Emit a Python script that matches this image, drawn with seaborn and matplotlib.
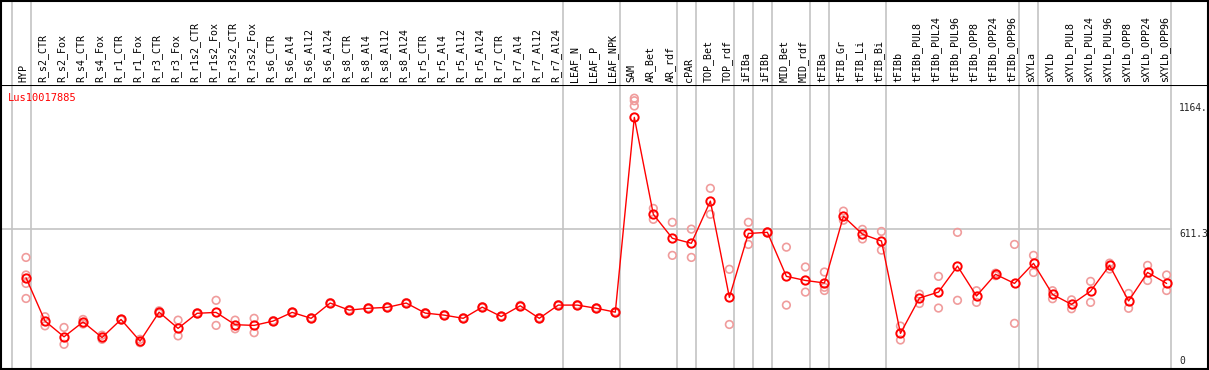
import numpy as np
import pandas as pd
import matplotlib
matplotlib.use('Agg')
import matplotlib.pyplot as plt
import seaborn as sns

gene = 'Lus10017885'

samples = ['HYP',
           'R_s2_CTR', 'R_s2_Fox', 'R_s4_CTR', 'R_s4_Fox', 'R_r1_CTR', 'R_r1_Fox',
           'R_r3_CTR', 'R_r3_Fox', 'R_r1s2_CTR', 'R_r1s2_Fox', 'R_r3s2_CTR', 'R_r3s2_Fox',
           'R_s6_CTR', 'R_s6_Al4', 'R_s6_Al12', 'R_s6_Al24', 'R_s8_CTR', 'R_s8_Al4',
           'R_s8_Al12', 'R_s8_Al24', 'R_r5_CTR', 'R_r5_Al4', 'R_r5_Al12', 'R_r5_Al24',
           'R_r7_CTR', 'R_r7_Al4', 'R_r7_Al12', 'R_r7_Al24',
           'LEAF_N', 'LEAF_P', 'LEAF_NPK',
           'SAM', 'AR_Bet', 'AR_rdf', 'cPAR', 'TOP_Bet', 'TOP_rdf', 'iFIBa', 'iFIBb',
           'MID_Bet', 'MID_rdf', 'tFIBa', 'tFIB_Gr', 'tFIB_Li', 'tFIB_Bi',
           'tFIBb', 'tFIBb_PUL8', 'tFIBb_PUL24', 'tFIBb_PUL96', 'tFIBb_OPP8',
           'tFIBb_OPP24', 'tFIBb_OPP96',
           'sXYLa', 'sXYLb', 'sXYLb_PUL8', 'sXYLb_PUL24', 'sXYLb_PUL96', 'sXYLb_OPP8',
           'sXYLb_OPP24', 'sXYLb_OPP96']

# mean expression per sample
means = [398,
         208, 139, 204, 136, 215, 120, 247, 176, 242, 246, 192, 189,
         208, 246, 220, 287, 256, 264, 268, 287, 243, 234, 220, 269,
         228, 275, 220, 278,
         278, 264, 247,
         1101, 676, 571, 549, 734, 312, 592, 597,
         404, 386, 375, 667, 589, 559,
         154, 309, 335, 449, 318, 413, 373,
         461, 325, 281, 339, 452, 296, 421, 373]

# replicate values (first / second replicate, extra ones below)
rep_a = [487,
         227, 180, 215, 146, 216, 128, 253, 212, 244, 299, 212, 220,
         210, 248, 222, 289, 258, 266, 270, 289, 245, 236, 222, 271,
         230, 277, 222, 280,
         280, 266, 249,
         1185, 702, 641, 611, 790, 435, 641, 599,
         532, 445, 423, 690, 610, 601,
         186, 326, 404, 597, 341, 418, 544,
         496, 341, 301, 382, 462, 329, 452, 410]
rep_b = [373,
         187, 106, 195, 128, 213, 113, 242, 143, 240, 189, 174, 157,
         206, 244, 218, 285, 254, 262, 266, 285, 241, 232, 218, 267,
         226, 273, 218, 276,
         276, 262, 245,
         1151, 654, 496, 487, 676, 193, 544, 595,
         278, 335, 356, 650, 568, 519,
         125, 285, 265, 299, 290, 407, 198,
         421, 306, 262, 290, 436, 264, 386, 342]
extra_idx = [0, 0, 32, 42]
extra_val = [410, 307, 1174, 342]

# last sample of each group -> separator after it
group_ends = [-1, 0, 28, 31, 34, 35, 37, 38, 39, 41, 42, 45, 52, 53, 60]
y_ticks = [1164, 611.3, 0]
y_tick_labels = ['1164.', '611.3', '0']

idx = np.arange(len(samples))
df_mean = pd.DataFrame({'i': idx, 'value': means})
df_rep = pd.DataFrame({'i': np.concatenate([idx, idx, extra_idx]),
                       'value': rep_a + rep_b + extra_val})

W, H = 1209, 370
fig = plt.figure(figsize=(W / 100, H / 100), dpi=100)
sns.set_style('white')
plt.rcParams['font.family'] = ['DejaVu Sans Mono', 'DejaVu Sans']

L, R = 1, 1208
top_line = 85
bot = 368.5
step = 19.01
x0 = 26
xlim = ((L - x0) / step, (R - x0) / step)
ymax = (368.4 - top_line) / 0.228

ax = fig.add_axes([L / W, (H - bot) / H, (R - L) / W, (bot - top_line) / H])
hd = fig.add_axes([L / W, (H - top_line) / H, (R - L) / W, (top_line - 0.5) / H])

grid_c = '#c4c4c4'
for a in (ax, hd):
    a.set_xlim(*xlim)
    for g in group_ends:
        a.axvline(g + 0.25, color=grid_c, lw=1.2, zorder=0)
    a.set_xticks([])
    a.set_yticks([])
    for s in a.spines.values():
        s.set_color('black')
        s.set_linewidth(1.5)

ax.set_ylim(0, ymax)
hd.set_ylim(0, 1)
hd.spines['bottom'].set_visible(False)
ax.plot([xlim[0], 60.25], [611.3, 611.3], color=grid_c, lw=1.2, zorder=0)

sns.scatterplot(data=df_rep, x='i', y='value', ax=ax, marker='o', s=30,
                facecolor='none', edgecolor='#f09c9c', linewidth=1.2, zorder=2)
sns.lineplot(data=df_mean, x='i', y='value', ax=ax, color='red', lw=1.0,
             marker='o', markersize=6, markerfacecolor='none',
             markeredgecolor='red', markeredgewidth=1.4, zorder=3)
ax.set_xlabel('')
ax.set_ylabel('')

for i, name in zip(idx, samples):
    hd.text(i - 0.13, 0.03, name, rotation=90, ha='center', va='bottom',
            fontsize=7.2, color='black')

ax.text(0.006, 0.955, gene, transform=ax.transAxes, color='red',
        fontsize=7.5, ha='left', va='center')

xt = (1179 - x0) / step
for v, lab in zip(y_ticks, y_tick_labels):
    if v == 0:
        ax.text(xt, v + 10, lab, fontsize=6.9, ha='left', va='bottom')
    else:
        ax.text(xt, v, lab, fontsize=6.9, ha='left', va='top')

fig.savefig('out.png', dpi=100)
